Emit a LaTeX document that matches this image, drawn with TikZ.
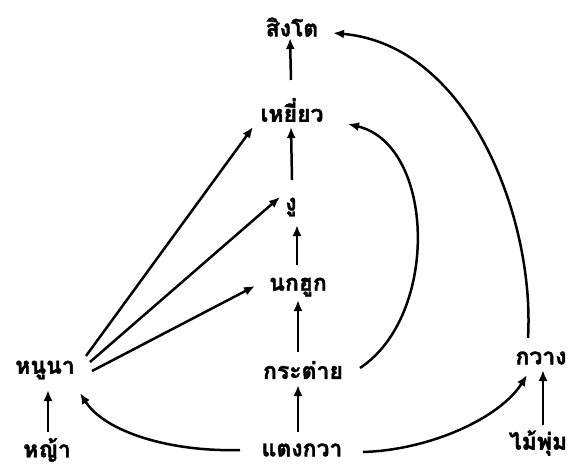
\documentclass[tikz,border=0pt]{standalone}
\usepackage{fontspec}
\newfontfamily\thaifont[Script=Thai,BoldFeatures={FakeBold=1.5}]{Loma}
\usetikzlibrary{arrows.meta,calc}
\begin{document}
\begin{tikzpicture}[x=1pt,y=-1pt,
  lbl/.style={font=\thaifont\bfseries\fontsize{23}{26}\selectfont, inner sep=0pt},
  arr/.style={line width=2.5pt, -{Latex[length=11pt,width=9pt]}}]
\useasboundingbox (0,0) rectangle (572,466);
\node[lbl] (lion) at (292,27) {สิงโต};
\node[lbl] (hawk) at (292,110) {เหยี่ยว};
\node[lbl] (snake) at (291,207) {งู};
\node[lbl] (owl) at (298,287) {นกฮูก};
\node[lbl] (rabbit) at (303,370) {กระต่าย};
\node[lbl] (mouse) at (45,370) {หนูนา};
\node[lbl] (grass) at (47,450) {หญ้า};
\node[lbl] (cuc) at (302,450) {แตงกวา};
\node[lbl] (deer) at (541,358) {กวาง};
\node[lbl] (shrub) at (538,443) {ไม้พุ่ม};
% vertical chain
\draw[arr] ($(hawk)+(-1,-30)$) -- ($(lion)+(-2,11)$);
\draw[arr] ($(snake)+(1,-27)$) -- ($(hawk)+(-1,17)$);
\draw[arr] ($(owl)+(-1,-22)$) -- ($(snake)+(6,18)$);
\draw[arr] ($(rabbit)+(-5,-18)$) -- ($(owl)+(0,13)$);
\draw[arr] ($(cuc)+(-4,-18)$) -- ($(rabbit)+(-5,15)$);
% from mouse
\draw[arr] ($(mouse)+(41,-14)$) -- ($(hawk)+(-39,17)$);
\draw[arr] ($(mouse)+(45,-8)$) -- ($(snake)+(-11,-10)$);
\draw[arr] ($(mouse)+(47,1)$) -- ($(owl)+(-43,-1)$);
\draw[arr] ($(grass)+(1,-18)$) -- ($(mouse)+(3,20)$);
\draw[arr] ($(shrub)+(5,-18)$) -- ($(deer)+(2,12)$);
% curves
\draw[arr] ($(cuc)+(-62,0)$) .. controls (170,452) and (105,432) .. ($(mouse)+(35,23)$);
\draw[arr] ($(cuc)+(61,2)$) .. controls (430,450) and (500,418) .. ($(deer)+(-14,17)$);
\draw[arr] ($(rabbit)+(57,-2)$) .. controls (440,315) and (435,145) .. ($(hawk)+(56,14)$);
\draw[arr] ($(deer)+(-13,-20)$) .. controls (535,220) and (470,45) .. ($(lion)+(41,6)$);
\end{tikzpicture}
\end{document}
